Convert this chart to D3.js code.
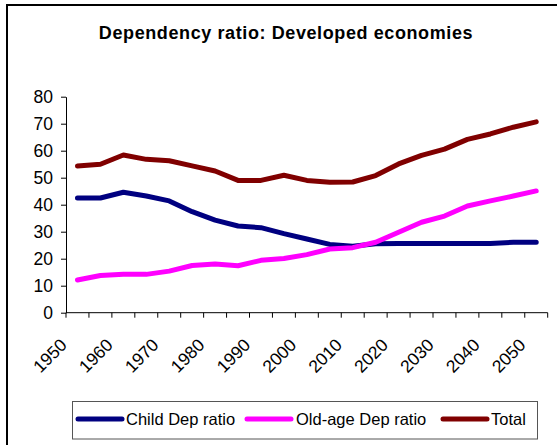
<!DOCTYPE html>
<html>
<head>
<meta charset="utf-8">
<script src="https://cdn.jsdelivr.net/npm/d3@7"></script>
<style>
  body { margin: 0; background: #fff; }
  svg { display: block; font-family: "Liberation Sans", Arial, sans-serif; }
</style>
</head>
<body>
<svg id="chart" width="557" height="445"></svg>
<script>
// chart data
const years = ["1950","1955","1960","1965","1970","1975","1980","1985","1990","1995","2000",
               "2005","2010","2015","2020","2025","2030","2035","2040","2045","2050"];
const childDep = [42.5, 42.5, 44.6, 43.2, 41.4, 37.4, 34.3, 32.1, 31.5, 29.3, 27.3,
                  25.3, 24.6, 25.5, 25.6, 25.6, 25.6, 25.6, 25.6, 26.1, 26.1];
const oldAgeDep = [12.1, 13.8, 14.2, 14.2, 15.4, 17.5, 18.0, 17.4, 19.4, 20.1, 21.5,
                   23.6, 24.1, 26.1, 29.8, 33.5, 35.8, 39.5, 41.4, 43.2, 45.1];
const total = [54.3, 55.0, 58.4, 56.8, 56.3, 54.4, 52.5, 49.0, 49.0, 50.9, 49.0,
               48.3, 48.4, 50.8, 55.1, 58.3, 60.6, 64.2, 66.2, 68.7, 70.7];
const yTicks = [0, 10, 20, 30, 40, 50, 60, 70, 80];
const xLabels = ["1950","1960","1970","1980","1990","2000","2010","2020","2030","2040","2050"];

const seriesNames = ["Child Dep ratio", "Old-age Dep ratio", "Total"];
const seriesColors = ["#000080", "#ff00ff", "#800000"];
const seriesValues = [childDep, oldAgeDep, total];

const svg = d3.select("#chart");

// outer chart border
svg.append("rect")
  .attr("x", 7).attr("y", 5)
  .attr("width", 600).attr("height", 500)
  .attr("fill", "none").attr("stroke", "#000").attr("stroke-width", 2);

// title
svg.append("text")
  .attr("x", 286).attr("y", 39)
  .attr("text-anchor", "middle")
  .attr("font-size", 18).attr("font-weight", "bold")
  .attr("letter-spacing", 0.6)
  .text("Dependency ratio: Developed economies");

const plotLeft = 66, plotRight = 547.7, plotTop = 96.7, plotBottom = 312.7;

const x = d3.scaleBand().domain(years).range([plotLeft, plotRight]);
const y = d3.scaleLinear().domain([0, 80]).range([plotBottom, plotTop]);

// y axis
const yAxis = svg.append("g").attr("class", "yAxis")
  .attr("transform", "translate(" + [plotLeft, 0] + ")")
  .call(d3.axisLeft(y).tickValues(yTicks).tickSize(5).tickPadding(8).tickSizeOuter(0));
yAxis.selectAll("text").attr("font-size", 17.5).attr("fill", "#000")
  .attr("font-family", "Liberation Sans, Arial, sans-serif");
yAxis.selectAll("line, path").attr("stroke", "#000");

// x axis: line plus ticks on the band edges (categories sit between ticks)
const xAxis = svg.append("g").attr("class", "xAxis");
xAxis.append("line")
  .attr("x1", plotLeft).attr("x2", plotRight)
  .attr("y1", plotBottom).attr("y2", plotBottom)
  .attr("stroke", "#000");
const edges = years.map(d => x(d)).concat([x.range()[1]]);
xAxis.selectAll(".tick").data(edges).enter().append("line")
  .attr("class", "tick")
  .attr("x1", d => d).attr("x2", d => d)
  .attr("y1", plotBottom).attr("y2", plotBottom + 5)
  .attr("stroke", "#000");
xAxis.selectAll("text").data(xLabels).enter().append("text")
  .attr("transform", d => "translate(" + [x(d) + x.bandwidth() / 2 - 9.5, plotBottom + 33.5] + ") rotate(-45)")
  .attr("text-anchor", "end")
  .attr("font-size", 17.5)
  .text(d => d);

// series lines
const line = d3.line()
  .x((d, i) => x(years[i]) + x.bandwidth() / 2)
  .y(d => y(d));

svg.selectAll(".series").data(seriesValues).enter().append("path")
  .attr("class", "series")
  .attr("d", d => line(d))
  .attr("fill", "none")
  .attr("stroke", (d, i) => seriesColors[i])
  .attr("stroke-width", 5)
  .attr("stroke-linejoin", "round")
  .attr("stroke-linecap", "round");

// legend
const legend = svg.append("g").attr("class", "legend");
legend.append("rect")
  .attr("x", 72.5).attr("y", 401.5)
  .attr("width", 465).attr("height", 37.5)
  .attr("fill", "#fff").attr("stroke", "#555").attr("stroke-width", 1);

const legendX = [78, 247, 443];
const legendText = [126, 296, 491];
seriesNames.forEach(function(name, i) {
  legend.append("line")
    .attr("x1", legendX[i]).attr("x2", legendX[i] + 44)
    .attr("y1", 419).attr("y2", 419)
    .attr("stroke", seriesColors[i]).attr("stroke-width", 5)
    .attr("stroke-linecap", "round");
  legend.append("text")
    .attr("x", legendText[i]).attr("y", 425)
    .attr("font-size", 16.5)
    .text(name);
});
</script>
</body>
</html>
